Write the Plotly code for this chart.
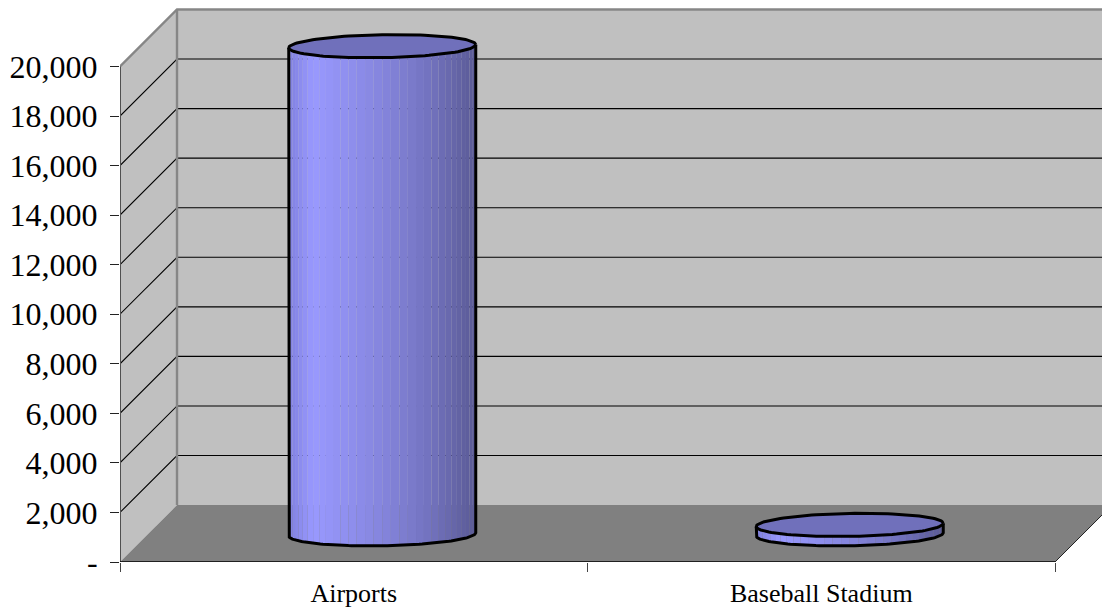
import numpy as np
import plotly.graph_objects as go

# Chart data
categories = ["Airports", "Baseball Stadium"]
values = [19700, 380]
value_ticks = [0, 2000, 4000, 6000, 8000, 10000, 12000, 14000, 16000, 18000, 20000]
value_labels = ["-", "2,000", "4,000", "6,000", "8,000", "10,000", "12,000",
                "14,000", "16,000", "18,000", "20,000"]
wall_grid = [2000, 4000, 6000, 8000, 10000, 12000, 14000, 16000, 18000]

# Canvas and axis scale
WIDTH, HEIGHT = 1102, 610
LEFT, BOTTOM = 120, 47.5
PX_PER_CAT = 467.5
PX_PER_UNIT = 49.6 / 2000
X_MAX = (WIDTH - LEFT) / PX_PER_CAT
Y_MAX = (HEIGHT - BOTTOM) / PX_PER_UNIT


def dx(px):
    return px / PX_PER_CAT


def dy(px):
    return px / PX_PER_UNIT


# Oblique projection of the 3-D box
DEPTH_X = dx(57)
DEPTH_Y = dy(57)
SEMI_A = 0.2              # half of the cylinder width, in categories
SEMI_B = dy(11.5)         # half of the ellipse height
TILT = dy(1.6)            # slight roll of the ellipses
CENTER_Y = dy(27.7)
CENTER_X = dx(28.5)

WALL = "#c0c0c0"
FLOOR = "#808080"
EDGE = "#868686"
TOP_FILL = "#7070bb"

# Body shading, left to right
shade_pos = [0.0, 0.13, 0.5, 0.75, 1.0]
shade_r = [128, 153, 133, 115, 90]
shade_g = [128, 153, 133, 115, 90]
shade_b = [224, 255, 221, 191, 150]
N_STRIPS = 34

fig = go.Figure()


def poly(xs, ys, fill=None, line=None, width=1, closed=True):
    fig.add_trace(go.Scatter(
        x=xs, y=ys, mode="lines", hoverinfo="skip", showlegend=False,
        fill="toself" if closed and fill else "none",
        fillcolor=fill,
        line=dict(color=line or "rgba(0,0,0,0)", width=width if line else 0),
    ))


# Walls and floor
poly([0, DEPTH_X, DEPTH_X, 0], [0, DEPTH_Y, 20000 + DEPTH_Y, 20000], WALL)
poly([DEPTH_X, X_MAX + 0.1, X_MAX + 0.1, DEPTH_X],
     [DEPTH_Y, DEPTH_Y, 20000 + DEPTH_Y, 20000 + DEPTH_Y], WALL)
poly([0, 2, 2 + DEPTH_X, DEPTH_X], [0, 0, DEPTH_Y, DEPTH_Y], FLOOR)

# Gridlines on the side and back walls
for v in wall_grid:
    poly([0, DEPTH_X, X_MAX + 0.1],
         [v, v + DEPTH_Y, v + DEPTH_Y], line="#000000", width=1.1, closed=False)

# Wall edges
poly([0, DEPTH_X, X_MAX + 0.1], [20000, 20000 + DEPTH_Y, 20000 + DEPTH_Y],
     line=EDGE, width=2.4, closed=False)
poly([DEPTH_X, DEPTH_X], [DEPTH_Y, 20000 + DEPTH_Y], line=EDGE, width=2.4, closed=False)
poly([2, 2 + DEPTH_X], [0, DEPTH_Y], line="#222222", width=1, closed=False)


def cylinder(center, value):
    cx = center + CENTER_X
    y0 = CENTER_Y
    y1 = y0 + value
    edges = np.linspace(np.pi, 0, N_STRIPS + 1)
    for a, b in zip(edges[:-1], edges[1:]):
        th = np.linspace(a, b, 5)
        xb = cx + SEMI_A * np.cos(th)
        yb = y0 - SEMI_B * np.sin(th) + TILT * np.cos(th)
        yt = y1 + TILT * np.cos(th)
        t = (np.cos((a + b) / 2) + 1) / 2
        r = np.interp(t, shade_pos, shade_r)
        g = np.interp(t, shade_pos, shade_g)
        bl = np.interp(t, shade_pos, shade_b)
        poly(list(xb) + list(xb[::-1]), list(yb) + list(yt[::-1]),
             f"rgb({r:.0f},{g:.0f},{bl:.0f})")
    # Outline of the sides and lower rim
    th = np.linspace(np.pi, 0, 90)
    poly([cx - SEMI_A] + list(cx + SEMI_A * np.cos(th)) + [cx + SEMI_A],
         [y1 - TILT] + list(y0 - SEMI_B * np.sin(th) + TILT * np.cos(th)) + [y1 + TILT],
         line="#000000", width=3, closed=False)
    # Top face
    th = np.linspace(0, 2 * np.pi, 121)
    poly(cx + SEMI_A * np.cos(th),
         y1 + SEMI_B * np.sin(th) + TILT * np.cos(th),
         TOP_FILL, "#000000", 3)


for i, val in enumerate(values):
    cylinder(i + 0.5, val)

# Value axis and category baseline
poly([0, 0], [-dy(9), 20000], line="#505050", width=2, closed=False)
poly([0, 2], [0, 0], line="#000000", width=1.5, closed=False)
for trace in fig.data[-2:]:
    trace.update(cliponaxis=False)

fig.update_layout(
    width=WIDTH, height=HEIGHT,
    margin=dict(l=LEFT, r=0, t=0, b=BOTTOM, pad=0),
    paper_bgcolor="white", plot_bgcolor="white",
    showlegend=False,
    font=dict(family="Liberation Serif", color="#000000"),
    xaxis=dict(
        range=[0, X_MAX], showgrid=False, zeroline=False, showline=False,
        tickmode="array", tickvals=[0.5, 1.5], ticktext=categories,
        ticks="outside", ticklen=8, tickcolor="rgba(0,0,0,0)",
        tickfont=dict(size=26),
        minor=dict(tickmode="array", tickvals=[0, 1, 2], ticks="outside",
                   ticklen=9, tickwidth=1.2, tickcolor="#444444", showgrid=False),
    ),
    yaxis=dict(
        range=[0, Y_MAX], showgrid=False, zeroline=False, showline=False,
        tickmode="array", tickvals=value_ticks, ticktext=value_labels,
        ticks="outside", ticklen=9, tickwidth=1.3, tickcolor="#222222",
        tickfont=dict(size=32), ticklabelstandoff=6,
    ),
)

fig.write_html("out.html", config=dict(displayModeBar=False))
